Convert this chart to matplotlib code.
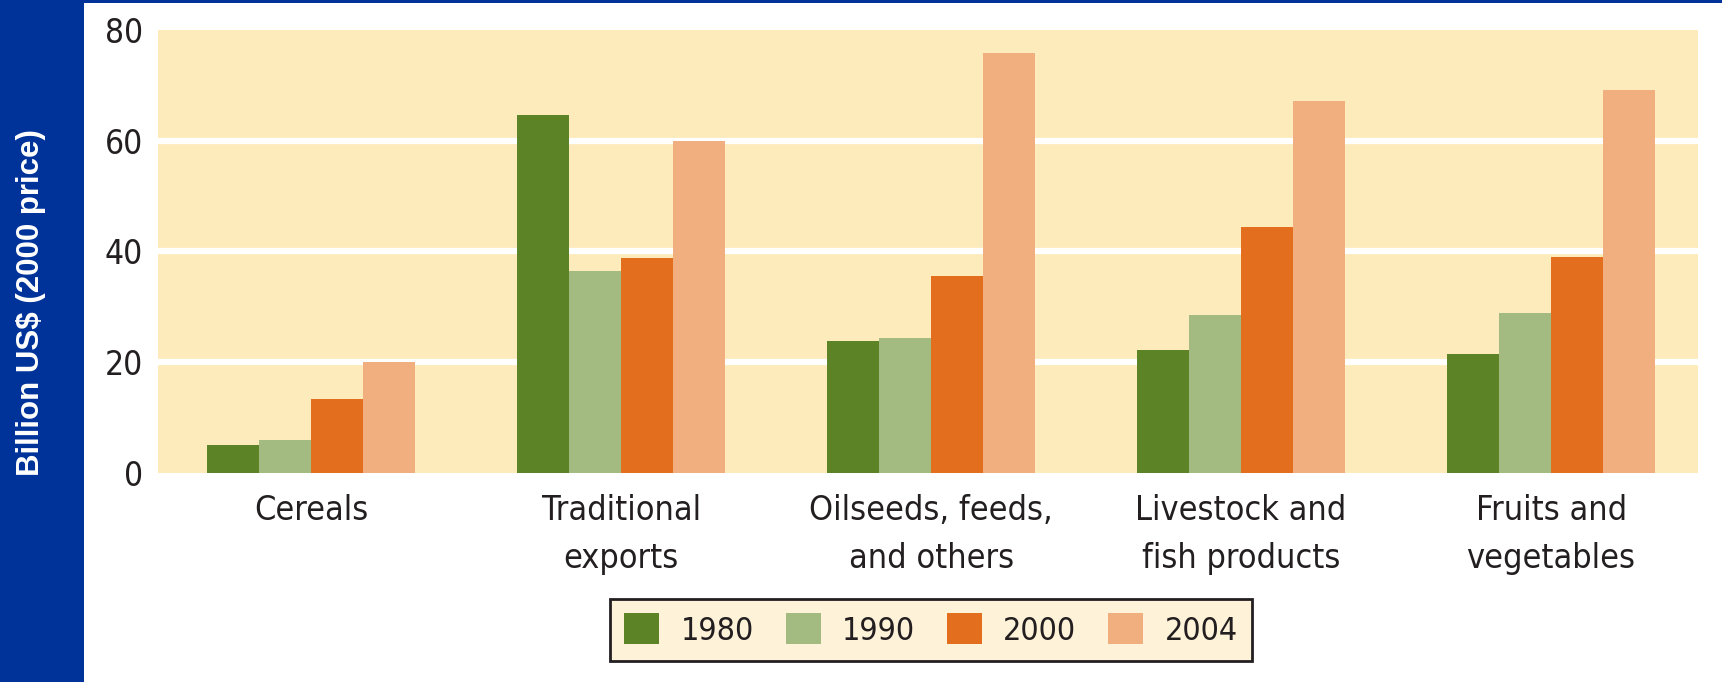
import matplotlib
matplotlib.use("Agg")
import matplotlib.pyplot as plt
import numpy as np
from matplotlib.patches import Rectangle
from matplotlib import font_manager

# data
categories = ["Cereals", "Traditional\nexports", "Oilseeds, feeds,\nand others",
              "Livestock and\nfish products", "Fruits and\nvegetables"]
years = ["1980", "1990", "2000", "2004"]
v1980 = [5.1, 64.6, 23.8, 22.2, 21.4]
v1990 = [5.9, 36.4, 24.4, 28.5, 28.9]
v2000 = [13.3, 38.8, 35.6, 44.4, 39.0]
v2004 = [20.0, 60.0, 75.8, 67.1, 69.1]
yticks = [0, 20, 40, 60, 80]

colors = ["#5C8427", "#A3BA80", "#E36E1E", "#F1AE7F"]
cream = "#FEEBBB"
blue = "#003399"
txt = "#231F20"

fig = plt.figure(figsize=(17.22, 6.82), dpi=100)

# blue strip on the left and thin line on top
fig.patches.append(Rectangle((0, 0), 84 / 1722, 1, transform=fig.transFigure,
                             facecolor=blue, edgecolor="none", zorder=0))
fig.patches.append(Rectangle((0, 1 - 2.5 / 682), 1, 2.5 / 682, transform=fig.transFigure,
                             facecolor=blue, edgecolor="none", zorder=0))
fig.text(31 / 1722, 1 - 303 / 682, "Billion US$ (2000 price)", rotation=90,
         ha="center", va="center", color="white", fontsize=22.5, fontweight="bold",
         family="Liberation Sans")

ax = fig.add_axes([158 / 1722, 1 - 473 / 682, 1540 / 1722, 443.3 / 682])
ax.set_facecolor(cream)

x = np.arange(len(categories))
w = 0.168
series = [v1980, v1990, v2000, v2004]
for i, vals in enumerate(series):
    ax.bar(x + (i - 1.5) * w, vals, width=w, color=colors[i], label=years[i], zorder=3)

ax.set_ylim(0, 80)
ax.set_xlim(-0.494, 4.474)
ax.set_yticks(yticks)
ax.set_yticklabels([str(t) for t in yticks], family="DejaVu Sans", stretch="condensed",
                   fontsize=24, color=txt)
ax.set_xticks(x)
ax.set_xticklabels(categories, family="DejaVu Sans", stretch="condensed",
                   fontsize=24.5, color=txt, linespacing=1.6)
ax.tick_params(length=0)
ax.tick_params(axis="y", pad=11)
ax.tick_params(axis="x", pad=15)
for s in ax.spines.values():
    s.set_visible(False)
for t in [20, 40, 60]:
    ax.axhline(t, color="white", linewidth=4.5, zorder=2)

leg = ax.legend(loc="center", bbox_to_anchor=(931 / 1722, 1 - 630 / 682),
                bbox_transform=fig.transFigure, ncol=4, frameon=True, fancybox=False,
                prop=font_manager.FontProperties(family="DejaVu Sans", stretch="condensed", size=23),
                handlelength=1.1, handleheight=1.1,
                handletextpad=0.66, columnspacing=1.0, borderpad=0.45, borderaxespad=0)
leg.get_frame().set_facecolor("#FEF2D9")
leg.get_frame().set_edgecolor("#231F20")
leg.get_frame().set_linewidth(2)
leg.get_frame().set_alpha(1)
for t in leg.get_texts():
    t.set_color(txt)

fig.savefig("out.png", dpi=100)
